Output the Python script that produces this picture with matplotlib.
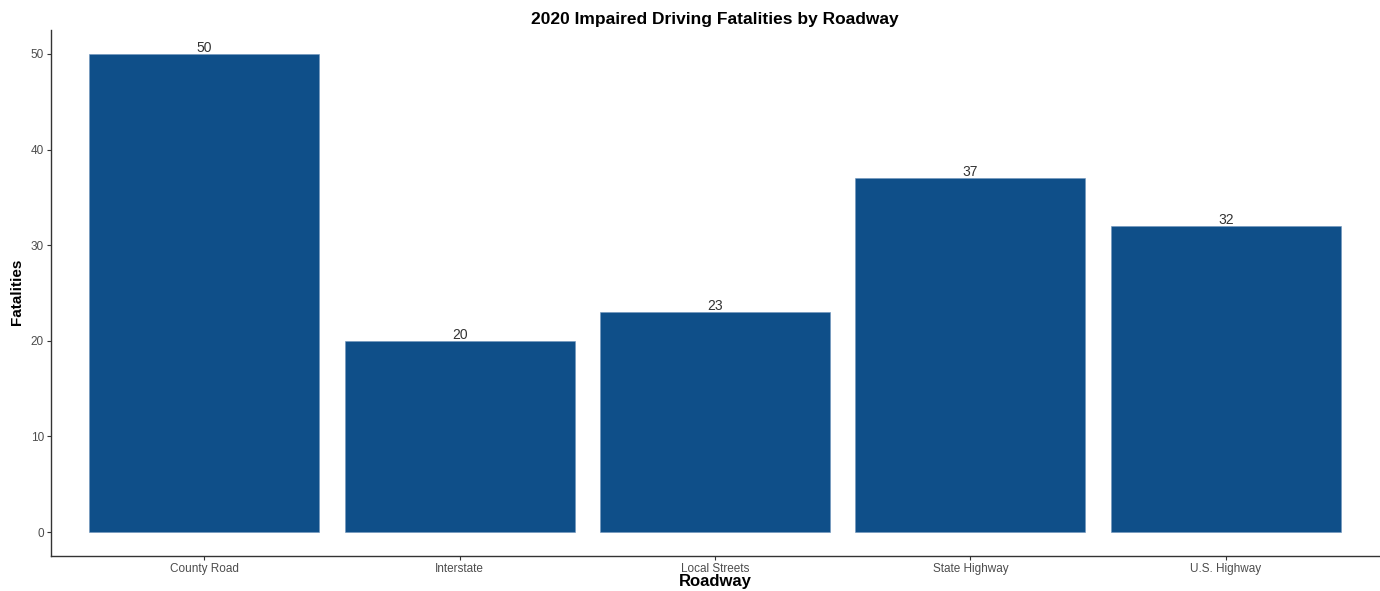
import matplotlib
matplotlib.use("Agg")
import matplotlib.pyplot as plt

categories = ["County Road", "Interstate", "Local Streets", "State Highway", "U.S. Highway"]
fatalities = [50, 20, 23, 37, 32]
yticks = [0, 10, 20, 30, 40, 50]

plt.rcParams['font.family'] = ['Liberation Sans', 'DejaVu Sans']

W, H = 1380, 591
fig = plt.figure(figsize=(W/100, H/100), dpi=100)
ax = fig.add_axes([51/W, (H-556)/H, (1379-51)/W, (556-30)/H])

x = list(range(1, len(categories)+1))
ax.bar(x, fatalities, width=0.9, color='#0F4F89', edgecolor='#6f95bd', linewidth=0.4)
for xi, v in zip(x, fatalities):
    ax.text(xi, v - 0.1, str(v), ha='center', va='bottom', fontsize=10, color='#333333')

ax.set_xlim(0.4, len(categories) + 0.6)
ax.set_ylim(-2.5, 52.5)
ax.set_xticks(x)
ax.set_xticklabels(categories)
ax.set_yticks(yticks)
ax.tick_params(axis='both', labelsize=8.5, colors='#4d4d4d', length=3, width=0.8, pad=2)
ax.tick_params(axis='both', color='#333333')
for s in ['top', 'right']:
    ax.spines[s].set_visible(False)
for s in ['left', 'bottom']:
    ax.spines[s].set_color('#333333')
    ax.spines[s].set_linewidth(1.0)

fig.text(715/W, 1 - 581.5/H, "Roadway", fontsize=12, fontweight='bold', color='black',
         ha='center', va='center')
fig.text(17/W, 1 - 292/H, "Fatalities", fontsize=11, fontweight='bold', color='black',
         ha='center', va='center', rotation=90)
ax.set_title("2020 Impaired Driving Fatalities by Roadway", fontsize=12.5, fontweight='bold', pad=4)

fig.savefig("out.png", dpi=100)
